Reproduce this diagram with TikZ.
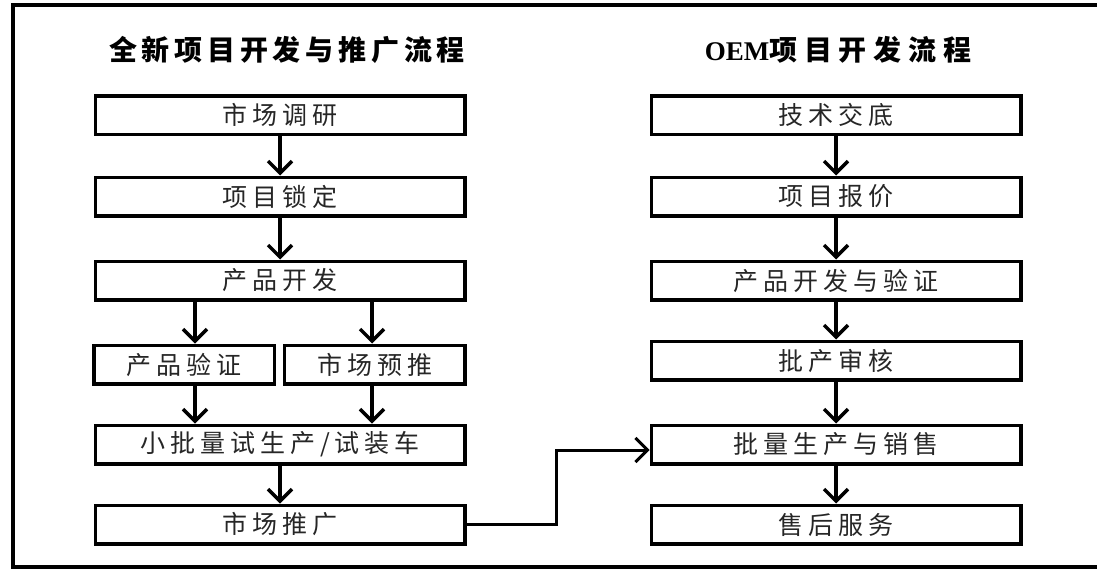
\documentclass[tikz,border=0pt]{standalone}
\usepackage{fontspec}
\usetikzlibrary{arrows.meta,positioning}
\newfontfamily\boxfont[LetterSpace=20]{Noto Sans CJK SC}
\newfontfamily\titlefont[LetterSpace=17]{Noto Sans CJK SC}
\newfontfamily\oemtitlefont[LetterSpace=24]{Noto Sans CJK SC}
\newfontfamily\oemfont{Liberation Serif}
\begin{document}
\begin{tikzpicture}[x=1pt,y=-1pt,
  box/.style={draw,line width=3.5pt,inner sep=0pt,minimum height=38.5pt,
    font=\boxfont\fontsize{25}{28}\selectfont,text=black!85},
  wide/.style={box,minimum width=369.5pt},
  half/.style={box,minimum width=180.5pt},
  title/.style={font=\bfseries\fontsize{28}{32}\selectfont},
  arr/.style={line width=3.5pt,-{Straight Barb[length=12pt,width=24pt]}}]
\useasboundingbox (0,0) rectangle (1097,570);

% Frame (right side runs off the page)
\draw[line width=3.5pt] (1097,5) -- (13,5) -- (13,567) -- (1097,567);

% Titles
\node[title] (t1) at (287,50) {\titlefont\bfseries 全新项目开发与推广流程};
\node[title] (t2) at (838,50) {{\oemfont\bfseries\fontsize{27}{30}\selectfont OEM}\oemtitlefont\bfseries 项目开发流程};

% Left column
\node[wide] (dy) at (280,115) {市场调研};
\node[wide] (sd) at (280,196.5) {项目锁定};
\node[wide] (kf) at (280,280.5) {产品开发};
\node[half] (yz) at (184,364.5) {产品验证};
\node[half] (yt) at (374.5,364.5) {市场预推};
\node[wide] (sc) at (280,444.5) {小批量试生产/试装车};
\node[wide] (tg) at (280,524.5) {市场推广};

% Right column
\node[wide] (jd) at (836,115) {技术交底};
\node[wide] (bj) at (836,196.5) {项目报价};
\node[wide] (kfyz) at (836,280.5) {产品开发与验证};
\node[wide] (sh) at (836,360.5) {批产审核};
\node[wide] (xs) at (836,444.5) {批量生产与销售};
\node[wide] (fw) at (836,524.5) {售后服务};

% Arrows, left column
\coordinate (la) at (195,0);
\coordinate (ra) at (372,0);
\draw[arr] (dy) -- (sd);
\draw[arr] (sd) -- (kf);
\draw[arr] (kf.south -| la) -- (yz.north -| la);
\draw[arr] (kf.south -| ra) -- (yt.north -| ra);
\draw[arr] (yz.south -| la) -- (sc.north -| la);
\draw[arr] (yt.south -| ra) -- (sc.north -| ra);
\draw[arr] (sc) -- (tg);

% Arrows, right column
\draw[arr] (jd) -- (bj);
\draw[arr] (bj) -- (kfyz);
\draw[arr] (kfyz) -- (sh);
\draw[arr] (sh) -- (xs);
\draw[arr] (xs) -- (fw);

% Link between the two flows
\coordinate (bend) at (556,450);
\draw[arr,line width=3pt] (tg.east) -| (bend) -- (bend -| xs.west);
\end{tikzpicture}
\end{document}
